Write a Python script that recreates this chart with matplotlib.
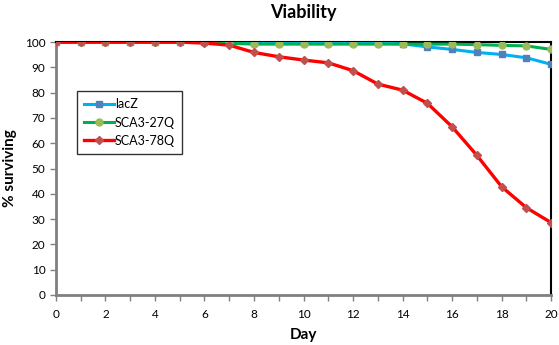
import numpy as np
import matplotlib as mpl
mpl.use('Agg')
import matplotlib.pyplot as plt
from matplotlib.ticker import MultipleLocator

plt.rcParams['font.family'] = ['Lato', 'DejaVu Sans']

days = list(range(21))
lacz = [100, 100, 100, 100, 100, 100, 100, 100, 99.8, 99.8, 99.8, 99.8, 99.8, 99.6, 99.3,
        98.1, 97.1, 95.9, 95.1, 93.8, 91.2]
sca27 = [100, 100, 100, 100, 100, 100, 100, 99.5, 99.2, 99.2, 99.2, 99.2, 99.2, 99.2, 99.2,
         99.2, 99.2, 99.0, 98.7, 98.5, 97.1]
sca78 = [100, 100, 100, 100, 100, 100, 99.6, 98.8, 95.9, 94.2, 92.9, 91.8, 88.7, 83.4, 81.0,
         75.8, 66.5, 55.2, 42.8, 34.5, 28.6]

fig = plt.figure(figsize=(5.59, 3.45), dpi=100)
ax = fig.add_axes([0.1, 0.145, 0.886, 0.733])

ax.plot(days, lacz, color='#00B0F0', lw=2.2, marker='s', ms=4.5,
        mfc='#4F81BD', mec='#4F81BD', label='lacZ', zorder=3)
ax.plot(days, sca27, color='#00B050', lw=2.2, marker='o', ms=5,
        mfc='#9BBB59', mec='#9BBB59', label='SCA3-27Q', zorder=3.5)
ax.plot(days, sca78, color='#FF0000', lw=2.4, marker='D', ms=4,
        mfc='#C0504D', mec='#C0504D', label='SCA3-78Q', zorder=4)

ax.set_xlim(0, 20)
ax.set_ylim(0, 100)
ax.xaxis.set_major_locator(MultipleLocator(2))
ax.xaxis.set_minor_locator(MultipleLocator(1))
ax.yaxis.set_major_locator(MultipleLocator(10))
ax.tick_params(axis='both', which='both', direction='out', length=4, width=1,
               color='#808080', labelsize=8.5)
ax.tick_params(axis='x', pad=6)

for s in ['left', 'bottom']:
    ax.spines[s].set_color('#808080')
    ax.spines[s].set_linewidth(2)
for s in ['top', 'right']:
    ax.spines[s].set_color('black')
    ax.spines[s].set_linewidth(1.5)

ax.set_title('Viability', fontsize=13, fontweight='bold', pad=17)
ax.set_xlabel('Day', fontsize=11, fontweight='bold', labelpad=6)
ax.set_ylabel('% surviving', fontsize=11, fontweight='bold', labelpad=6)

leg = ax.legend(loc='upper left', bbox_to_anchor=(0.042, 0.805), fontsize=9,
                frameon=True, fancybox=False, handlelength=2.4, borderpad=0.55,
                labelspacing=0.5, handletextpad=0.1, borderaxespad=0)
leg.get_frame().set_edgecolor('black')
leg.get_frame().set_linewidth(1)

fig.savefig('out.png', dpi=100)
